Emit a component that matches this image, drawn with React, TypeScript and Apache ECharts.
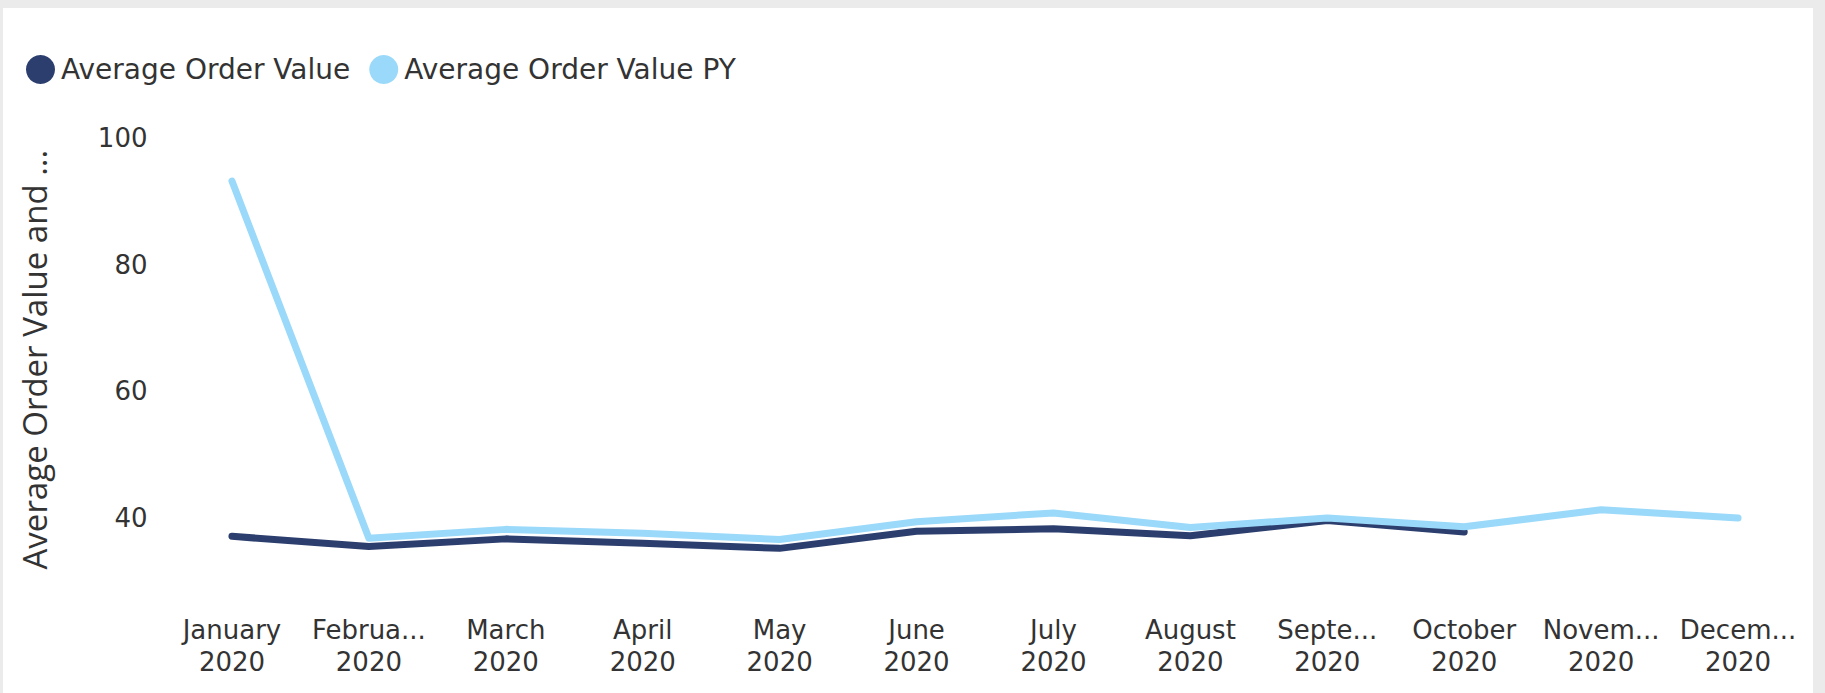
import React, { useEffect, useRef } from "react";
import * as echarts from "echarts";

const months = [
  "January", "Februa...", "March", "April", "May", "June",
  "July", "August", "Septe...", "October", "Novem...", "Decem...",
];
const yearLabel = "2020";
const aovValues: (number | null)[] = [37.1, 35.5, 36.7, 36.0, 35.2, 37.9, 38.3, 37.2, 39.6, 37.8, null, null];
const aovPyValues: number[] = [93.2, 36.8, 38.2, 37.6, 36.6, 39.4, 40.8, 38.5, 40.0, 38.6, 41.3, 40.0];
const yTickLabels = [40, 60, 80, 100];

export default function App() {
  const ref = useRef<HTMLDivElement>(null);
  useEffect(() => {
    if (!ref.current) return;
    const chart = echarts.init(ref.current, null, { renderer: "svg" });
    const categories = months.map((m) => `${m}\n${yearLabel}`);
    chart.setOption({
      animation: false,
      backgroundColor: "#EBEBEB",
      graphic: [
        {
          type: "rect",
          z: -10,
          silent: true,
          shape: { x: 3, y: 8, width: 1810, height: 690 },
          style: { fill: "#FFFFFF" },
        },
      ],
      legend: {
        left: 21,
        top: 50,
        icon: "circle",
        itemWidth: 29,
        itemHeight: 29,
        itemGap: 19,
        textStyle: { fontFamily: "DejaVu Sans", fontSize: 28, color: "#333333", padding: [0, 0, 0, 1] },
        data: ["Average Order Value", "Average Order Value PY"],
      },
      grid: { left: 163.5, right: 18.5, top: 138, bottom: 111.7, containLabel: false },
      xAxis: {
        type: "category",
        data: categories,
        boundaryGap: true,
        axisLine: { show: false },
        axisTick: { show: false },
        axisLabel: {
          interval: 0,
          margin: 33,
          fontFamily: "DejaVu Sans",
          fontSize: 26,
          lineHeight: 32,
          color: "#333333",
        },
      },
      yAxis: {
        type: "value",
        min: 30,
        max: 100,
        interval: 10,
        name: "Average Order Value and ...",
        nameLocation: "middle",
        nameRotate: 90,
        nameGap: 113,
        nameTextStyle: { fontFamily: "Open Sans", fontSize: 33, color: "#333333" },
        axisLine: { show: false },
        axisTick: { show: false },
        splitLine: { show: false },
        axisLabel: {
          margin: 16,
          fontFamily: "DejaVu Sans",
          fontSize: 26,
          color: "#333333",
          formatter: (v: number) => (yTickLabels.includes(v) ? String(v) : ""),
        },
      },
      series: [
        {
          name: "Average Order Value",
          type: "line",
          data: aovValues,
          symbol: "none",
          color: "#2C3E6E",
          lineStyle: { width: 7, color: "#2C3E6E", cap: "round", join: "round" },
        },
        {
          name: "Average Order Value PY",
          type: "line",
          data: aovPyValues,
          symbol: "none",
          color: "#9AD9F9",
          lineStyle: { width: 7, color: "#9AD9F9", cap: "round", join: "round" },
        },
      ],
    });
    return () => chart.dispose();
  }, []);
  return (
    <div
      ref={ref}
      style={{ position: "absolute", left: 0, top: 0, width: 1825, height: 693 }}
    />
  );
}
